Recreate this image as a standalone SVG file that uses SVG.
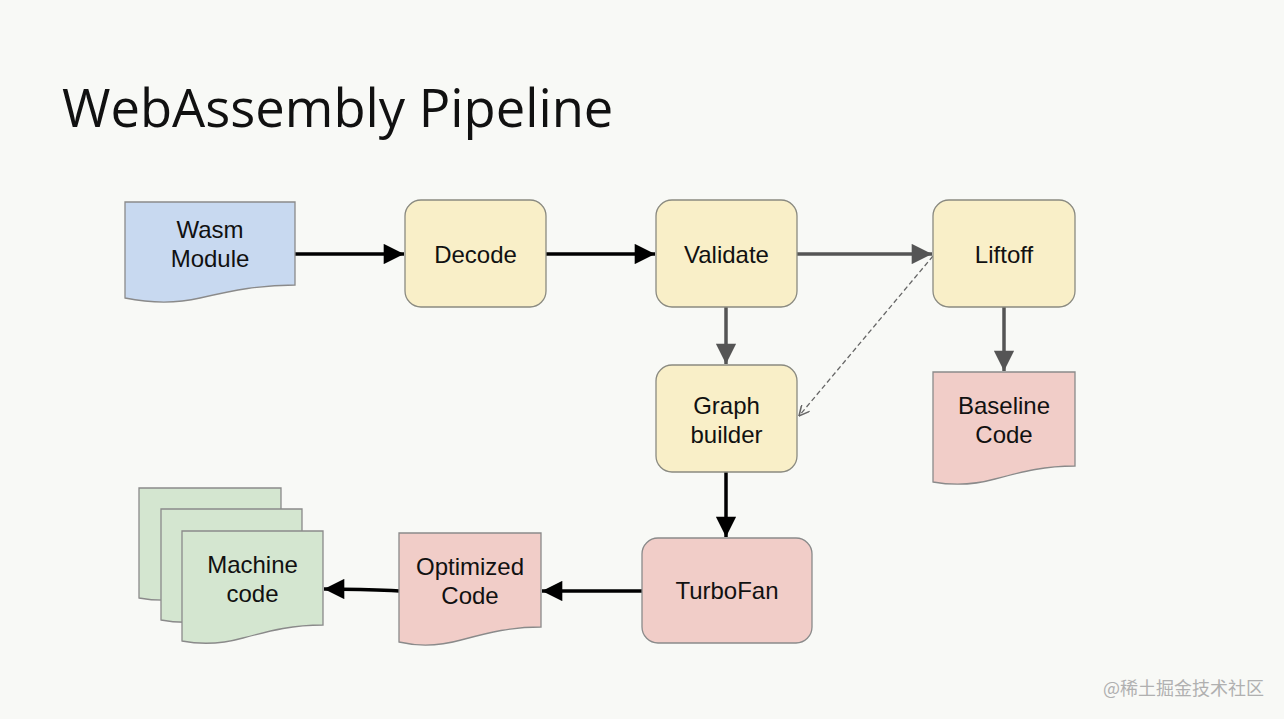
<svg xmlns="http://www.w3.org/2000/svg" width="1284" height="719" viewBox="0 0 1284 719">
<defs>
<style>
.bg{fill:#f8f9f6}
.title{font-family:"Open Sans","Liberation Sans",sans-serif;font-size:52.5px;fill:#111}
.lbl{font-family:"Liberation Sans",Arial,sans-serif;font-size:24px;fill:#111;text-anchor:middle}
.proc{fill:#f9efc8;stroke:#8a8a80;stroke-width:1.3}
.blue{fill:#c8d9f0;stroke:#8a8a8a;stroke-width:1.3}
.red{fill:#f1cdc8;stroke:#8a8a8a;stroke-width:1.3}
.green{fill:#d4e6d0;stroke:#8a8a8a;stroke-width:1.3}
.blk{stroke:#000;stroke-width:3.5;fill:none}
.gry{stroke:#555;stroke-width:3.5;fill:none}
.dash{stroke:#666;stroke-width:1.3;fill:none;stroke-dasharray:5 3}
.wm{font-family:"Noto Sans CJK SC","Liberation Sans",sans-serif;font-size:18px;fill:#b0b0b0}
</style>
<marker id="ab" viewBox="0 0 10 10" refX="10" refY="5" markerWidth="7.2" markerHeight="5.8" markerUnits="strokeWidth" orient="auto"><path d="M0,0 L10,5 L0,10 z" fill="#000"/></marker>
<marker id="ag" viewBox="0 0 10 10" refX="10" refY="5" markerWidth="7.2" markerHeight="5.8" markerUnits="strokeWidth" orient="auto"><path d="M0,0 L10,5 L0,10 z" fill="#555"/></marker>
<marker id="ad" viewBox="0 0 10 10" refX="10" refY="5" markerWidth="9" markerHeight="8" markerUnits="strokeWidth" orient="auto"><path d="M0,0 L10,5 L0,10" fill="none" stroke="#666" stroke-width="1.5"/></marker>
</defs>
<rect class="bg" x="0" y="0" width="1284" height="719"/>
<text class="title" x="62" y="127">WebAssembly Pipeline</text>

<g id="connectors">
<line class="blk" x1="295" y1="254" x2="404" y2="254" marker-end="url(#ab)"/>
<line class="blk" x1="546" y1="254" x2="655" y2="254" marker-end="url(#ab)"/>
<line class="gry" x1="797" y1="254" x2="932" y2="254" marker-end="url(#ag)"/>
<line class="gry" x1="726" y1="307" x2="726" y2="364" marker-end="url(#ag)"/>
<line class="gry" x1="1004" y1="307" x2="1004" y2="371" marker-end="url(#ag)"/>
<line class="dash" x1="933" y1="256" x2="799" y2="416" marker-end="url(#ad)"/>
<line class="blk" x1="726" y1="472" x2="726" y2="537" marker-end="url(#ab)"/>
<line class="blk" x1="642" y1="591" x2="542" y2="591" marker-end="url(#ab)"/>
<path class="blk" d="M399,591 C380,590 370,589 324,589" marker-end="url(#ab)"/>
</g>

<g id="wasm-module">
<path class="blue" d="M125,202 H295 V285 C260,285 235,290 200,298 C170,305 145,302 125,298 Z"/>
<text class="lbl" x="210" y="238">Wasm</text>
<text class="lbl" x="210" y="267">Module</text>
</g>
<g id="decode">
<rect class="proc" x="405" y="200" width="141" height="107" rx="16"/>
<text class="lbl" x="475.5" y="263">Decode</text>
</g>
<g id="validate">
<rect class="proc" x="656" y="200" width="141" height="107" rx="16"/>
<text class="lbl" x="726.5" y="263">Validate</text>
</g>
<g id="liftoff">
<rect class="proc" x="933" y="200" width="142" height="107" rx="16"/>
<text class="lbl" x="1004" y="263">Liftoff</text>
</g>
<g id="baseline-code">
<path class="red" d="M933,372 H1075 V466 C1045,466 1025,471 995,479 C970,486 950,485 933,482 Z"/>
<text class="lbl" x="1004" y="414">Baseline</text>
<text class="lbl" x="1004" y="443">Code</text>
</g>
<g id="graph-builder">
<rect class="proc" x="656" y="365" width="141" height="107" rx="16"/>
<text class="lbl" x="726.5" y="414">Graph</text>
<text class="lbl" x="726.5" y="443">builder</text>
</g>
<g id="turbofan">
<rect class="red" x="642" y="538" width="170" height="105" rx="16"/>
<text class="lbl" x="727" y="599">TurboFan</text>
</g>
<g id="optimized-code">
<path class="red" d="M399,533 H541 V627 C511,627 491,632 461,640 C436,647 416,646 399,642 Z"/>
<text class="lbl" x="470" y="575">Optimized</text>
<text class="lbl" x="470" y="604">Code</text>
</g>
<g id="machine-code">
<path class="green" d="M139,488 H281 V582 C251,582 231,587 201,595 C176,602 156,601 139,598 Z"/>
<path class="green" d="M161,509 H302 V604 C272,604 252,609 222,617 C197,624 177,623 161,620 Z"/>
<path class="green" d="M182,531 H323 V625 C293,625 273,630 243,638 C218,645 198,644 182,641 Z"/>
<text class="lbl" x="252.5" y="573">Machine</text>
<text class="lbl" x="252.5" y="602">code</text>
</g>
<text class="wm" x="1103" y="695">@稀土掘金技术社区</text>
</svg>
